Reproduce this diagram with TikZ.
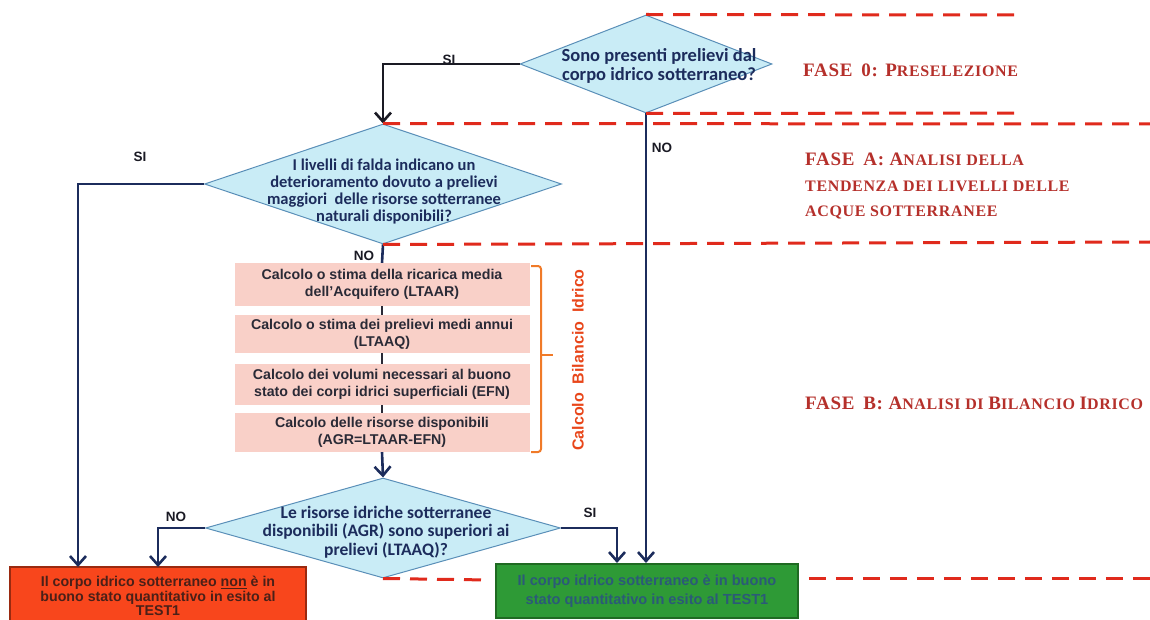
\documentclass[tikz,border=0pt]{standalone}
\usepackage{fontspec}
\setmainfont{Liberation Sans}
\newfontfamily\carl{Carlito}
\newfontfamily\phasefont[LetterSpace=4]{Liberation Serif}
\usetikzlibrary{shapes.geometric,arrows.meta}
\definecolor{dfill}{HTML}{C9ECF6}
\definecolor{dedge}{HTML}{5A8FB8}
\definecolor{navy}{HTML}{1C2C5C}
\definecolor{pinkbox}{HTML}{F9D0C8}
\definecolor{pinktext}{HTML}{2A2A36}
\definecolor{dashred}{HTML}{E02A1C}
\definecolor{phasered}{HTML}{B5302B}
\definecolor{bracecol}{HTML}{F07A28}
\definecolor{rotcol}{HTML}{E8461A}
\definecolor{redfill}{HTML}{F8461C}
\definecolor{rededge}{HTML}{9A2A10}
\definecolor{redtext}{HTML}{4A2018}
\definecolor{greenfill}{HTML}{2E9A36}
\definecolor{greenedge}{HTML}{1F6A22}
\definecolor{greentext}{HTML}{2B5A78}
\definecolor{toplinecol}{HTML}{1A1A24}
\newcommand\phL[1]{{\fontsize{19}{19}\selectfont #1}}
\newcommand\phS[1]{{\fontsize{16}{16}\selectfont #1}}
\begin{document}
\begin{tikzpicture}[x=1pt,y=-1pt,
  decision/.style={diamond, draw=dedge, fill=dfill, line width=1pt, inner sep=0pt},
  dtext/.style={text=navy, align=center, inner sep=0pt},
  pbox/.style={fill=pinkbox, draw=none, minimum width=295pt, inner sep=0pt, align=center,
     font=\bfseries\fontsize{14.2}{17}\selectfont, text=pinktext},
  flow/.style={draw=navy, line width=2.6pt, -{Straight Barb[length=9pt,width=16pt,line width=2.6pt]}},
  link/.style={draw=navy, line width=2.6pt},
  thinlink/.style={draw=pinktext, line width=2pt},
  lbl/.style={font=\bfseries\fontsize{13.5}{13.5}\selectfont, text=toplinecol, inner sep=0pt},
  dashline/.style={draw=dashred, line width=3pt, dash pattern=on 17pt off 10pt},
  phase/.style={font=\phasefont\bfseries, text=phasered, anchor=base west, inner sep=0pt, align=left},
  outbox/.style={inner sep=0pt, align=center, line width=1.5pt}
]
\useasboundingbox (0,0) rectangle (1150,620);

% decisions
\node[decision, minimum width=252pt, minimum height=98pt] (d0) at (646,64) {};
\node[dtext, font=\carl\bfseries\fontsize{18.5}{18.5}\selectfont] (d0t) at (659,66) {Sono presenti prelievi dal\\corpo idrico sotterraneo?};
\node[decision, minimum width=357pt, minimum height=120pt] (dA) at (383,184) {};
\node[dtext, font=\carl\bfseries\fontsize{16.5}{17}\selectfont] (dAt) at (384,192) {I livelli di falda indicano un\\deterioramento dovuto a prelievi\\maggiori\ \ delle risorse sotterranee\\naturali disponibili?};
\node[decision, minimum width=355pt, minimum height=100pt] (dB) at (383,528) {};
\node[dtext, font=\carl\bfseries\fontsize{17.5}{18.5}\selectfont] (dBt) at (386,532) {Le risorse idriche sotterranee\\disponibili (AGR) sono superiori ai\\prelievi (LTAAQ)?};

% pink boxes
\node[pbox, minimum height=43pt] (p1) at (382,284.5) {Calcolo o stima della ricarica media\\dell'Acquifero (LTAAR)};
\node[pbox, minimum height=38pt] (p2) at (382,334) {Calcolo o stima dei prelievi medi annui\\(LTAAQ)};
\node[pbox, minimum height=41pt] (p3) at (382,384.5) {Calcolo dei volumi necessari al buono\\stato dei corpi idrici superficiali (EFN)};
\node[pbox, minimum height=39pt] (p4) at (382,432.5) {Calcolo delle risorse disponibili\\(AGR=LTAAR-EFN)};

% outcome boxes
\node[outbox, draw=rededge, fill=redfill, minimum width=296pt, minimum height=58pt, text=redtext,
  font=\bfseries\fontsize{14.2}{14.8}\selectfont] (red) at (158,596)
  {Il corpo idrico sotterraneo \underline{non} è in\\buono stato quantitativo in esito al\\TEST1};
\node[outbox, draw=greenedge, fill=greenfill, minimum width=302pt, minimum height=54pt, text=greentext,
  font=\bfseries\fontsize{14.6}{19}\selectfont] (green) at (647,591)
  {Il corpo idrico sotterraneo è in buono\\stato quantitativo in esito al TEST1};

% arrival points
\coordinate (rA) at (78,567);
\coordinate (rB) at (158,567);
\coordinate (gB) at (617,563);
\coordinate (g0) at (646,563);

% connectors
\draw[flow, draw=toplinecol] (d0.west) -| (dA.north);
\draw[flow] (d0.south) -- (g0);
\draw[flow] (dA.west) -| (rA);
\draw[link] (dA.south) -- (p1.north);
\draw[thinlink] (p1.south) -- (p2.north);
\draw[thinlink] (p2.south) -- (p3.north);
\draw[thinlink] (p3.south) -- (p4.north);
\draw[flow] (p4.south) -- (dB.north);
\draw[flow] (dB.west) -| (rB);
\draw[flow] (dB.east) -| (gB);

% labels
\node[lbl] (l1) at (449,60) {SI};
\node[lbl] (l2) at (662,148) {NO};
\node[lbl] (l3) at (140,157) {SI};
\node[lbl] (l4) at (364,256) {NO};
\node[lbl] (l5) at (176,517) {NO};
\node[lbl] (l6) at (590,513) {SI};

% brace
\coordinate (bt) at (531,266);
\coordinate (bb) at (531,452);
\coordinate (bm) at (553,355);
\draw[draw=bracecol, line width=2pt, rounded corners=3pt]
  (bt) -- (541,266) -- (541,452) -- (bb);
\draw[draw=bracecol, line width=2pt] (541,355) -- (bm);
\node[rotate=90, text=rotcol, font=\bfseries\fontsize{16}{16}\selectfont, inner sep=0pt] (rot) at (578,360)
  {Calcolo\ \ Bilancio\ \ Idrico};

% phase dashed lines
\coordinate (e0) at (1015,15);
\coordinate (e1) at (1020,113);
\coordinate (e2) at (1150,124);
\coordinate (e3) at (1150,242);
\coordinate (e4) at (490,580);
\coordinate (e5) at (1150,578);
\draw[dashline] (d0.north) -- (e0);
\draw[dashline] (d0.south) -- (e1);
\draw[dashline] (dA.north) -- (e2);
\draw[dashline] (dA.south) -- (e3);
\draw[dashline] (dB.south) -- (e4);
\draw[dashline] (green.east |- e5) ++(10,0) -- (e5);

% phase labels
\node[phase] (f0) at (803,77) {\phL{FASE\, 0: P}\phS{RESELEZIONE}};
\node[phase] (fa1) at (805,166) {\phL{FASE\, A: A}\phS{NALISI DELLA}};
\node[phase] (fa2) at (805,192) {\phS{TENDENZA DEI LIVELLI DELLE}};
\node[phase] (fa3) at (805,217) {\phS{ACQUE SOTTERRANEE}};
\node[phase] (fb) at (805,409) {\phL{FASE\, B: A}\phS{NALISI DI }\phL{B}\phS{ILANCIO }\phL{I}\phS{DRICO}};
\end{tikzpicture}
\end{document}
